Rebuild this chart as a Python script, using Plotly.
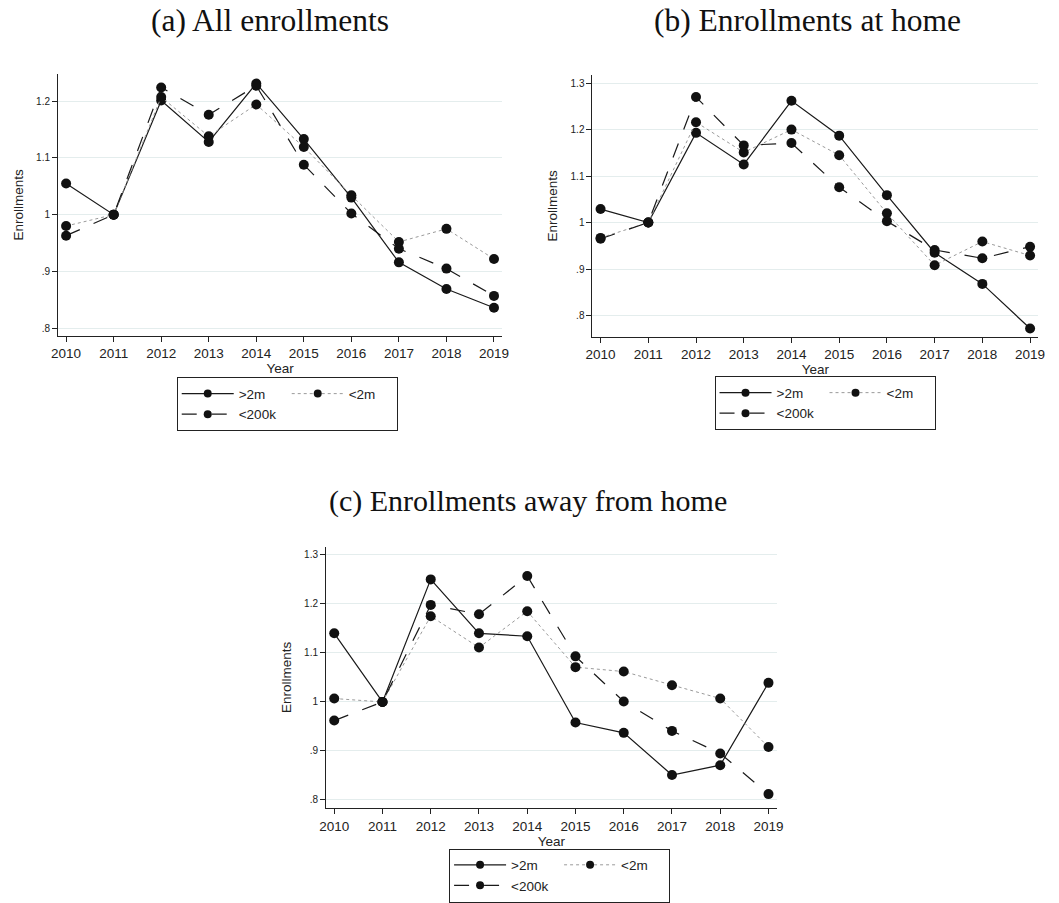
import plotly.graph_objects as go

# ---- data -------------------------------------------------------------
years = [2010, 2011, 2012, 2013, 2014, 2015, 2016, 2017, 2018, 2019]
series_names = [">2m", "<2m", "<200k"]

# (a) All enrollments
all_gt2m = [1.055, 1.000, 1.201, 1.128, 1.231, 1.133, 1.030, 0.916, 0.869, 0.836]
all_lt2m = [0.980, 1.000, 1.207, 1.138, 1.194, 1.119, 1.034, 0.952, 0.975, 0.922]
all_lt200k = [0.963, 1.000, 1.224, 1.176, 1.227, 1.088, 1.002, 0.940, 0.905, 0.857]

# (b) Enrollments at home
home_gt2m = [1.029, 1.000, 1.193, 1.125, 1.262, 1.187, 1.059, 0.935, 0.868, 0.772]
home_lt2m = [0.967, 1.000, 1.216, 1.151, 1.200, 1.145, 1.020, 0.908, 0.959, 0.929]
home_lt200k = [0.965, 1.000, 1.270, 1.166, 1.171, 1.076, 1.003, 0.941, 0.923, 0.948]

# (c) Enrollments away from home
away_gt2m = [1.140, 1.000, 1.250, 1.140, 1.134, 0.958, 0.937, 0.851, 0.871, 1.039]
away_lt2m = [1.007, 1.000, 1.175, 1.111, 1.185, 1.071, 1.062, 1.034, 1.007, 0.908]
away_lt200k = [0.962, 1.000, 1.198, 1.179, 1.257, 1.093, 1.001, 0.941, 0.895, 0.812]

titles = ["(a) All enrollments", "(b) Enrollments at home", "(c) Enrollments away from home"]
ytick_vals_a = [0.8, 0.9, 1.0, 1.1, 1.2]
ytick_vals_bc = [0.8, 0.9, 1.0, 1.1, 1.2, 1.3]
ytick_text_a = [".8", ".9", "1", "1.1", "1.2"]
ytick_text_bc = [".8", ".9", "1", "1.1", "1.2", "1.3"]

# ---- layout geometry (page is 1059 x 903, no outer margins) -----------
W, H = 1059, 903


def px_x(v):
    return v / W


def px_y(v):
    return 1 - v / H


panels = [
    dict(data=[all_gt2m, all_lt2m, all_lt200k], x=(51.7, 501.7), y=(75, 340),
         yrange=[0.7866, 1.2475], tv=ytick_vals_a, tt=ytick_text_a,
         leg=(172, 382), title=(267, 21), tsize=31.5),
    dict(data=[home_gt2m, home_lt2m, home_lt200k], x=(593.3, 1045), y=(75.7, 341),
         yrange=[0.754, 1.318], tv=ytick_vals_bc, tt=ytick_text_bc,
         leg=(717, 381), title=(811, 21), tsize=31.5),
    dict(data=[away_gt2m, away_lt2m, away_lt200k], x=(323.3, 780), y=(553.3, 818.3),
         yrange=[0.783, 1.317], tv=ytick_vals_bc, tt=ytick_text_bc,
         leg=(448, 859), title=(528, 507), tsize=30),
]

styles = [
    dict(line=dict(color="#1a1a1a", width=1.2, dash="solid"), group="g1"),
    dict(line=dict(color="#9a9a9a", width=1.0, dash="dot"), group="g2"),
    dict(line=dict(color="#1a1a1a", width=1.2, dash="longdash"), group="g1"),
]

SANS = "Liberation Sans, Arial, sans-serif"
SERIF = "Liberation Serif, Times New Roman, serif"
GRID = "#e4eded"
INK = "#222222"

fig = go.Figure()
layout = {}
annotations = []

for i, p in enumerate(panels):
    n = "" if i == 0 else str(i + 1)
    xa, ya = "x" + n, "y" + n
    legend_name = "legend" + n
    for name, vals, st in zip(series_names, p["data"], styles):
        group = f"{st['group']}_{i}"
        fig.add_trace(go.Scatter(
            x=years, y=vals, name=name, mode="lines+markers",
            line=st["line"],
            marker=dict(symbol="circle", size=10, color="#111111"),
            xaxis=xa, yaxis=ya, legend=legend_name,
            legendgroup=group, showlegend=False,
        ))
        # legend key with a slightly smaller marker
        fig.add_trace(go.Scatter(
            x=[None], y=[None], name=name, mode="lines+markers",
            line=st["line"],
            marker=dict(symbol="circle", size=8, color="#111111"),
            xaxis=xa, yaxis=ya, legend=legend_name,
            legendgroup=group, showlegend=True, hoverinfo="skip",
        ))
    layout["xaxis" + n] = dict(
        domain=[px_x(p["x"][0]), px_x(p["x"][1])], anchor=ya,
        range=[2009.83, 2019.17], tickmode="array", tickvals=years,
        ticktext=[str(y) for y in years],
        ticks="outside", ticklen=5, tickcolor=INK, tickwidth=1,
        showline=True, linecolor=INK, linewidth=1, showgrid=False, zeroline=False,
        tickfont=dict(family=SANS, size=13.5, color=INK),
        title=dict(text="Year", font=dict(family=SANS, size=13.5, color=INK), standoff=0),
        fixedrange=True,
    )
    layout["yaxis" + n] = dict(
        domain=[px_y(p["y"][1]), px_y(p["y"][0])], anchor=xa,
        range=p["yrange"], tickmode="array", tickvals=p["tv"], ticktext=p["tt"],
        ticks="outside", ticklen=5, tickcolor=INK, tickwidth=1,
        showline=True, linecolor=INK, linewidth=1,
        showgrid=True, gridcolor=GRID, gridwidth=1, zeroline=False,
        tickfont=dict(family=SANS, size=10, color=INK),
        title=dict(text="Enrollments", font=dict(family=SANS, size=13.5, color=INK), standoff=9),
        fixedrange=True,
    )
    layout[legend_name] = dict(
        x=px_x(p["leg"][0]), y=px_y(p["leg"][1]), xanchor="left", yanchor="top",
        orientation="h", traceorder="grouped", tracegroupgap=0,
        bordercolor=INK, borderwidth=1, bgcolor="white",
        font=dict(family=SANS, size=13.5, color=INK), itemwidth=52,
        entrywidth=43,
    )
    annotations.append(dict(
        text=titles[i], x=px_x(p["title"][0]), y=px_y(p["title"][1]),
        xref="paper", yref="paper", xanchor="center", yanchor="middle",
        showarrow=False, font=dict(family=SERIF, size=p["tsize"], color="#111"),
    ))

fig.update_layout(
    width=W, height=H, margin=dict(l=0, r=0, t=0, b=0),
    paper_bgcolor="white", plot_bgcolor="white",
    annotations=annotations, showlegend=True,
    **layout,
)

fig.write_html("out.html")
